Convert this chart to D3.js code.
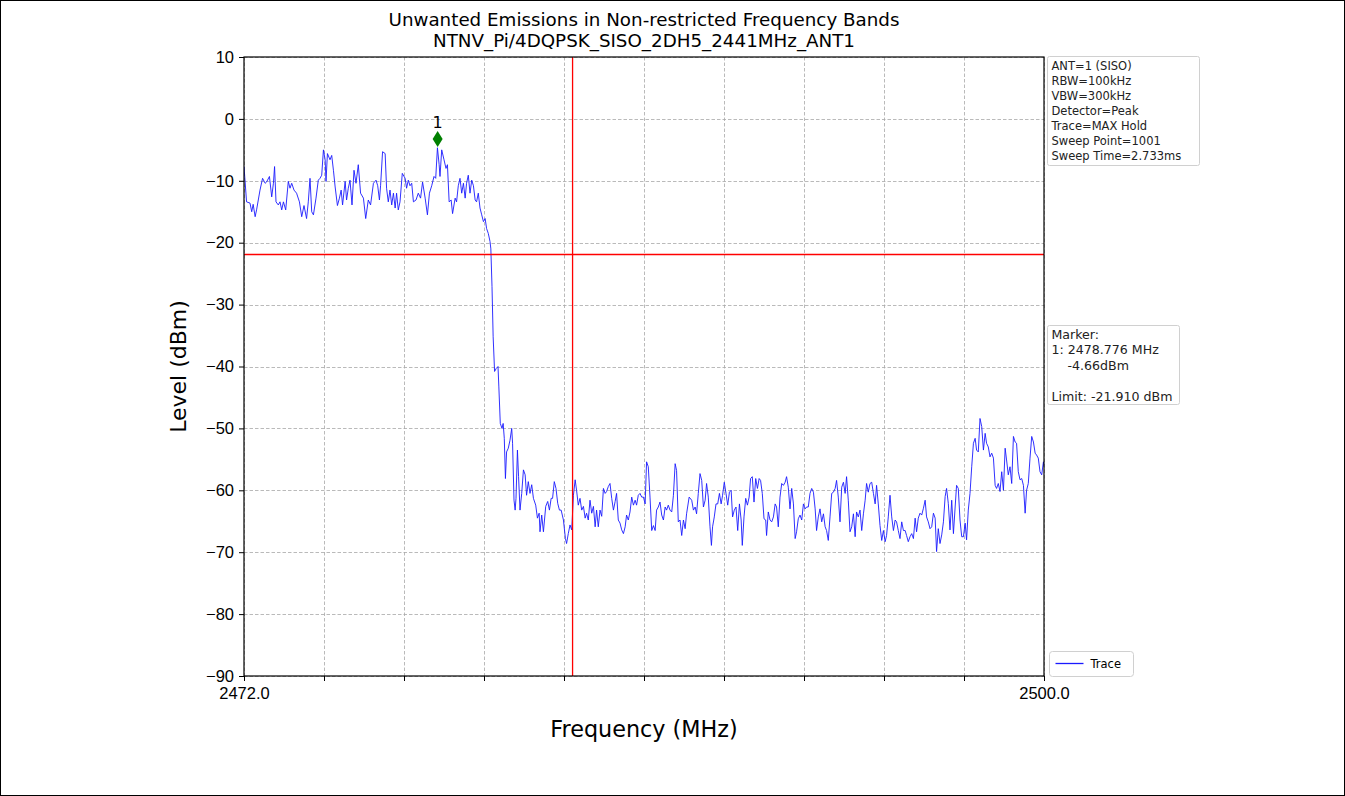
<!DOCTYPE html>
<html>
<head>
<meta charset="utf-8">
<script src="https://cdn.jsdelivr.net/npm/d3@7"></script>
<style>
  body { margin: 0; background: #fff; }
  svg { display: block; font-family: "DejaVu Sans", sans-serif; }
</style>
</head>
<body>
<svg width="1345" height="796"></svg>
<script>
// trace: frequency (MHz) and level (dBm)
var freqMHz = [
  2472.00,2472.09,2472.21,2472.27,2472.32,2472.39,2472.44,2472.56,2472.65,2472.74,2472.79,2472.89,2472.97,2473.03,2473.07,2473.12,
  2473.20,2473.26,2473.32,2473.38,2473.46,2473.55,2473.61,2473.67,2473.75,2473.84,2473.94,2474.02,2474.10,2474.19,2474.25,2474.31,
  2474.37,2474.43,2474.52,2474.60,2474.66,2474.72,2474.78,2474.84,2474.87,2474.92,2475.01,2475.07,2475.13,2475.19,2475.27,2475.34,
  2475.40,2475.45,2475.54,2475.59,2475.65,2475.71,2475.78,2475.85,2475.92,2476.00,2476.08,2476.18,2476.26,2476.35,2476.43,2476.53,
  2476.62,2476.68,2476.74,2476.78,2476.85,2476.94,2476.99,2477.05,2477.11,2477.17,2477.23,2477.29,2477.34,2477.40,2477.46,2477.54,
  2477.64,2477.69,2477.75,2477.81,2477.87,2477.93,2478.02,2478.10,2478.18,2478.25,2478.34,2478.42,2478.49,2478.57,2478.65,2478.71,
  2478.77,2478.83,2478.86,2478.92,2479.00,2479.07,2479.12,2479.18,2479.25,2479.30,2479.39,2479.44,2479.50,2479.56,2479.62,2479.68,
  2479.74,2479.79,2479.85,2479.91,2479.97,2480.03,2480.09,2480.14,2480.20,2480.26,2480.32,2480.38,2480.44,2480.49,2480.55,2480.61,
  2480.64,2480.68,2480.72,2480.77,2480.83,2480.89,2480.92,2480.97,2481.03,2481.07,2481.11,2481.15,2481.19,2481.25,2481.31,2481.37,
  2481.40,2481.45,2481.49,2481.52,2481.57,2481.61,2481.66,2481.72,2481.78,2481.84,2481.89,2481.95,2482.01,2482.07,2482.13,2482.21,
  2482.27,2482.33,2482.36,2482.42,2482.48,2482.56,2482.63,2482.69,2482.75,2482.80,2482.86,2482.92,2482.98,2483.04,2483.10,2483.18,
  2483.25,2483.29,2483.35,2483.41,2483.47,2483.53,2483.59,2483.64,2483.70,2483.76,2483.82,2483.88,2483.94,2483.99,2484.05,2484.11,
  2484.17,2484.23,2484.29,2484.34,2484.40,2484.46,2484.52,2484.58,2484.64,2484.69,2484.75,2484.81,2484.87,2484.93,2484.99,2485.04,
  2485.10,2485.16,2485.22,2485.28,2485.34,2485.39,2485.45,2485.51,2485.57,2485.63,2485.69,2485.74,2485.80,2485.86,2485.92,2485.98,
  2486.04,2486.09,2486.15,2486.21,2486.27,2486.33,2486.39,2486.44,2486.50,2486.56,2486.62,2486.68,2486.74,2486.79,2486.85,2486.91,
  2486.97,2487.03,2487.09,2487.14,2487.20,2487.26,2487.32,2487.38,2487.44,2487.49,2487.58,2487.67,2487.73,2487.79,2487.84,2487.90,
  2487.96,2488.02,2488.08,2488.14,2488.19,2488.25,2488.31,2488.36,2488.40,2488.46,2488.52,2488.58,2488.64,2488.70,2488.75,2488.81,
  2488.87,2488.93,2488.99,2489.05,2489.10,2489.16,2489.22,2489.28,2489.34,2489.40,2489.44,2489.50,2489.56,2489.62,2489.68,2489.73,
  2489.79,2489.85,2489.91,2489.97,2490.03,2490.08,2490.14,2490.20,2490.26,2490.29,2490.35,2490.41,2490.47,2490.53,2490.59,2490.64,
  2490.70,2490.76,2490.82,2490.88,2490.94,2490.99,2491.05,2491.11,2491.17,2491.23,2491.29,2491.34,2491.40,2491.46,2491.52,2491.58,
  2491.64,2491.69,2491.75,2491.81,2491.87,2491.93,2491.99,2492.04,2492.10,2492.16,2492.22,2492.28,2492.34,2492.39,2492.45,2492.51,
  2492.57,2492.63,2492.69,2492.74,2492.80,2492.86,2492.92,2492.98,2493.04,2493.09,2493.15,2493.21,2493.27,2493.33,2493.39,2493.44,
  2493.50,2493.56,2493.62,2493.68,2493.74,2493.79,2493.85,2493.91,2493.97,2494.03,2494.09,2494.14,2494.20,2494.26,2494.32,2494.38,
  2494.44,2494.49,2494.55,2494.61,2494.67,2494.73,2494.79,2494.84,2494.90,2494.96,2495.02,2495.08,2495.14,2495.19,2495.25,2495.31,
  2495.37,2495.43,2495.49,2495.54,2495.60,2495.66,2495.72,2495.78,2495.84,2495.89,2495.95,2496.01,2496.07,2496.13,2496.19,2496.24,
  2496.30,2496.36,2496.42,2496.48,2496.54,2496.59,2496.65,2496.71,2496.77,2496.83,2496.89,2496.94,2497.00,2497.06,2497.12,2497.18,
  2497.24,2497.29,2497.35,2497.41,2497.47,2497.53,2497.59,2497.64,2497.70,2497.76,2497.82,2497.88,2497.94,2497.99,2498.05,2498.11,
  2498.17,2498.23,2498.29,2498.34,2498.40,2498.46,2498.52,2498.58,2498.64,2498.69,2498.75,2498.81,2498.87,2498.93,2498.99,2499.04,
  2499.10,2499.16,2499.22,2499.28,2499.34,2499.39,2499.45,2499.51,2499.57,2499.63,2499.69,2499.74,2499.80,2499.86,2499.92,2499.98,
  2500.00
];
var levelDbm = [
  -7.7,-13.4,-13.6,-15.0,-13.8,-15.8,-14.7,-11.5,-9.6,-10.4,-10.2,-9.3,-12.6,-10.4,-7.7,-13.4,
  -13.9,-13.4,-14.7,-13.4,-14.7,-10.1,-11.2,-10.4,-11.5,-12.0,-13.4,-15.8,-14.0,-16.1,-13.4,-9.6,
  -15.0,-15.5,-12.8,-9.9,-9.6,-9.1,-5.0,-6.6,-10.1,-5.6,-6.6,-5.9,-8.3,-11.0,-14.0,-12.8,
  -11.5,-13.9,-10.1,-13.1,-11.2,-9.9,-13.9,-8.3,-10.4,-7.4,-12.0,-12.8,-16.1,-13.1,-13.9,-10.4,
  -9.9,-10.8,-13.1,-10.8,-5.3,-5.6,-11.2,-13.4,-11.5,-13.9,-12.0,-14.4,-12.0,-14.7,-13.4,-8.8,
  -9.6,-11.2,-9.9,-10.8,-10.4,-13.4,-13.1,-12.0,-12.8,-10.2,-12.8,-15.5,-12.0,-10.8,-9.3,-9.6,
  -4.66,-7.4,-9.3,-5.0,-6.6,-8.0,-7.4,-13.4,-13.1,-15.3,-12.8,-13.4,-10.8,-9.6,-12.0,-10.4,
  -12.8,-10.4,-9.1,-12.0,-9.9,-10.8,-13.1,-13.4,-12.0,-14.4,-15.5,-16.6,-16.1,-17.7,-18.5,-19.8,
  -21.0,-27.1,-35.2,-40.8,-40.3,-40.0,-43.3,-49.2,-50.0,-49.2,-51.6,-58.1,-53.8,-53.2,-51.9,-50.0,
  -52.4,-61.6,-63.2,-61.3,-53.5,-57.8,-63.2,-60.5,-56.7,-57.5,-60.8,-58.6,-60.5,-59.1,-61.3,-62.4,
  -64.5,-63.7,-66.7,-64.0,-66.7,-62.6,-61.8,-63.2,-61.3,-61.3,-58.6,-59.7,-62.1,-63.2,-63.2,-64.8,
  -67.8,-68.6,-67.0,-65.6,-66.4,-60.8,-58.3,-60.0,-62.4,-61.3,-63.2,-62.6,-64.5,-63.7,-64.8,-61.6,
  -63.7,-62.6,-65.9,-63.2,-65.9,-63.2,-64.2,-59.7,-60.5,-60.2,-59.4,-58.9,-61.3,-63.2,-61.8,-60.5,
  -64.8,-65.3,-66.4,-67.0,-65.9,-64.0,-64.8,-63.5,-61.1,-62.4,-61.6,-62.4,-60.8,-60.5,-61.1,-61.1,
  -62.2,-55.4,-56.2,-61.1,-66.5,-65.7,-66.5,-63.2,-62.7,-61.9,-64.0,-64.8,-62.7,-63.2,-62.4,-63.2,
  -63.5,-60.8,-55.7,-56.8,-65.1,-64.8,-67.3,-64.8,-66.2,-63.8,-61.1,-61.6,-63.2,-62.7,-63.8,-60.5,
  -57.3,-58.4,-62.7,-61.6,-58.9,-61.1,-65.9,-68.9,-65.9,-64.3,-62.2,-62.2,-60.5,-62.2,-60.8,-58.7,
  -60.5,-62.4,-60.3,-60.0,-64.3,-63.2,-62.7,-66.5,-62.2,-64.8,-68.9,-64.3,-61.3,-62.4,-61.1,-58.1,
  -57.8,-61.9,-58.1,-59.7,-58.1,-58.4,-60.5,-64.6,-64.8,-67.3,-63.5,-64.8,-65.1,-64.3,-62.2,-62.7,
  -65.9,-61.1,-58.9,-59.2,-58.7,-57.8,-59.5,-63.0,-59.7,-62.2,-67.8,-66.7,-64.6,-64.0,-64.8,-62.2,
  -63.0,-62.7,-62.7,-60.5,-59.7,-60.3,-63.0,-66.5,-64.3,-63.0,-65.1,-63.8,-65.9,-66.5,-68.1,-64.3,
  -60.5,-60.3,-59.7,-58.4,-61.1,-65.1,-59.5,-58.7,-60.5,-57.8,-61.6,-66.7,-65.9,-63.8,-67.5,-63.5,
  -64.3,-63.2,-66.5,-63.8,-61.6,-58.9,-60.3,-58.9,-58.7,-60.5,-62.2,-59.2,-62.2,-65.7,-68.1,-66.5,
  -68.3,-67.3,-64.3,-60.8,-64.3,-66.5,-64.8,-65.1,-66.5,-67.8,-65.1,-66.5,-66.5,-67.3,-68.3,-67.5,
  -67.0,-67.8,-64.5,-66.7,-64.5,-63.7,-64.0,-62.9,-61.6,-64.3,-65.1,-66.2,-65.9,-63.7,-64.5,-69.9,
  -66.2,-68.6,-67.2,-65.1,-61.0,-59.7,-62.1,-66.4,-61.6,-67.0,-62.7,-59.2,-59.7,-64.8,-67.5,-67.5,
  -65.3,-68.0,-63.2,-60.5,-56.2,-52.4,-51.6,-53.5,-53.8,-48.4,-49.7,-53.5,-50.8,-52.4,-53.0,-54.6,
  -54.0,-54.8,-59.2,-59.7,-58.9,-60.2,-57.0,-60.0,-53.2,-55.1,-57.5,-56.2,-58.9,-51.3,-52.2,-52.4,
  -57.0,-58.3,-58.1,-59.2,-63.7,-60.0,-58.9,-54.8,-51.3,-52.2,-54.0,-54.3,-54.8,-57.0,-57.5,-55.4,
  -56.2
];

var yTicks = [10, 0, -10, -20, -30, -40, -50, -60, -70, -80, -90];
var xTicks = [2472, 2474.8, 2477.6, 2480.4, 2483.2, 2486, 2488.8, 2491.6, 2494.4, 2497.2, 2500];
var xTickLabels = ["2472.0", "", "", "", "", "", "", "", "", "", "2500.0"];

var limitDbm = -21.91;
var bandEdgeMHz = 2483.5;
var markerMHz = 2478.776;
var markerDbm = -4.66;

var titleLines = ["Unwanted Emissions in Non-restricted Frequency Bands", "NTNV_Pi/4DQPSK_SISO_2DH5_2441MHz_ANT1"];
var infoLines = ["ANT=1 (SISO)", "RBW=100kHz", "VBW=300kHz", "Detector=Peak", "Trace=MAX Hold", "Sweep Point=1001", "Sweep Time=2.733ms"];
var markerLines = ["Marker:", "1: 2478.776 MHz", "    -4.66dBm", "", "Limit: -21.910 dBm"];

var svg = d3.select("svg"),
    margin = {top: 57, right: 301, bottom: 120, left: 244},
    width = +svg.attr("width") - margin.left - margin.right,
    height = +svg.attr("height") - margin.top - margin.bottom;

// figure frame
svg.append("rect")
    .attr("x", 0.5).attr("y", 0.5)
    .attr("width", 1344).attr("height", 795)
    .attr("fill", "none").attr("stroke", "#000").attr("stroke-width", 1);

var g = svg.append("g").attr("transform", "translate(" + margin.left + "," + margin.top + ")");

var x = d3.scaleLinear().domain([2472, 2500]).range([0, width]),
    y = d3.scaleLinear().domain([-90, 10]).range([height, 0]);

// grid
g.append("g")
    .selectAll("line")
    .data(yTicks)
    .enter().append("line")
    .attr("x1", 0).attr("x2", width)
    .attr("y1", function(d) { return Math.round(y(d)) + 0.5; })
    .attr("y2", function(d) { return Math.round(y(d)) + 0.5; })
    .attr("stroke", "#a8a8a8").attr("stroke-width", 0.8).attr("stroke-dasharray", "3.5,2");

g.append("g")
    .selectAll("line")
    .data(xTicks)
    .enter().append("line")
    .attr("y1", 0).attr("y2", height)
    .attr("x1", function(d) { return Math.round(x(d)) + 0.5; })
    .attr("x2", function(d) { return Math.round(x(d)) + 0.5; })
    .attr("stroke", "#a8a8a8").attr("stroke-width", 0.8).attr("stroke-dasharray", "3.5,2");

// axes
var yAxis = g.append("g")
    .call(d3.axisLeft(y).tickValues(yTicks).tickSize(5).tickPadding(5)
        .tickFormat(function(d) { return d < 0 ? "\u2212" + Math.abs(d) : d; }));

var xAxis = g.append("g")
    .attr("transform", "translate(0," + height + ")")
    .call(d3.axisBottom(x).tickValues(xTicks).tickSize(5).tickPadding(6)
        .tickFormat(function(d, i) { return xTickLabels[i]; }));

[yAxis, xAxis].forEach(function(a) {
    a.select(".domain").remove();
    a.selectAll("text").style("font-size", "16.5px").attr("fill", "#000");
    a.selectAll("line").attr("stroke", "#000");
});

var line = d3.line()
    .x(function(d) { return x(d[0]); })
    .y(function(d) { return y(d[1]); });

g.append("defs").append("clipPath").attr("id", "clip")
    .append("rect").attr("width", width).attr("height", height);

g.append("path")
    .datum(freqMHz.map(function(f, i) { return [f, levelDbm[i]]; }))
    .attr("clip-path", "url(#clip)")
    .attr("fill", "none")
    .attr("stroke", "#1a1aff")
    .attr("stroke-width", 0.9)
    .attr("stroke-linejoin", "round")
    .attr("d", line);

// limit and band edge
g.append("line")
    .attr("x1", 0).attr("x2", width)
    .attr("y1", y(limitDbm)).attr("y2", y(limitDbm))
    .attr("stroke", "red").attr("stroke-width", 1.3);

g.append("line")
    .attr("x1", x(bandEdgeMHz)).attr("x2", x(bandEdgeMHz))
    .attr("y1", 0).attr("y2", height)
    .attr("stroke", "red").attr("stroke-width", 1.3);

// marker 1
var mx = x(markerMHz), my = y(markerDbm + 1.4);
g.append("path")
    .attr("d", "M" + mx + "," + (my - 8) + "L" + (mx + 5) + "," + my + "L" + mx + "," + (my + 8) + "L" + (mx - 5) + "," + my + "Z")
    .attr("fill", "#008000");
g.append("text")
    .attr("x", mx).attr("y", my - 11)
    .attr("text-anchor", "middle")
    .style("font-size", "16px")
    .text("1");

// plot frame
g.append("rect")
    .attr("width", width).attr("height", height)
    .attr("fill", "none").attr("stroke", "#000").attr("stroke-width", 1.2);

// titles
svg.append("g").selectAll("text")
    .data(titleLines)
    .enter().append("text")
    .attr("x", margin.left + width / 2)
    .attr("y", function(d, i) { return 26 + i * 21; })
    .attr("text-anchor", "middle")
    .style("font-size", "18.3px")
    .text(function(d) { return d; });

svg.append("text")
    .attr("x", margin.left + width / 2)
    .attr("y", 737)
    .attr("text-anchor", "middle")
    .style("font-size", "22.3px")
    .text("Frequency (MHz)");

svg.append("text")
    .attr("transform", "translate(186," + (margin.top + height / 2) + ") rotate(-90)")
    .attr("text-anchor", "middle")
    .style("font-size", "22px")
    .text("Level (dBm)");

// text boxes on the right
function textBox(lines, x0, y0, w, h, fs, step) {
    var b = svg.append("g").attr("transform", "translate(" + x0 + "," + y0 + ")");
    b.append("rect")
        .attr("width", w).attr("height", h).attr("rx", 2)
        .attr("fill", "#fff").attr("stroke", "#d0d0d0");
    b.selectAll("text")
        .data(lines)
        .enter().append("text")
        .attr("x", 4)
        .attr("y", function(d, i) { return 13 + i * step; })
        .attr("xml:space", "preserve")
        .style("font-size", fs + "px")
        .style("white-space", "pre")
        .attr("fill", "#222")
        .text(function(d) { return d; });
}
textBox(infoLines, 1047.5, 56.5, 152, 109, 11.5, 15);
textBox(markerLines, 1047.5, 325.5, 132, 79, 12.6, 15.5);

// legend
var leg = svg.append("g").attr("transform", "translate(1049.5,651.5)");
leg.append("rect")
    .attr("width", 84).attr("height", 25).attr("rx", 3)
    .attr("fill", "#fff").attr("stroke", "#d0d0d0");
leg.append("line")
    .attr("x1", 6).attr("x2", 34).attr("y1", 12).attr("y2", 12)
    .attr("stroke", "#1a1aff").attr("stroke-width", 1.3);
leg.append("text")
    .attr("x", 41).attr("y", 16)
    .style("font-size", "11.5px")
    .text("Trace");
</script>
</body>
</html>
